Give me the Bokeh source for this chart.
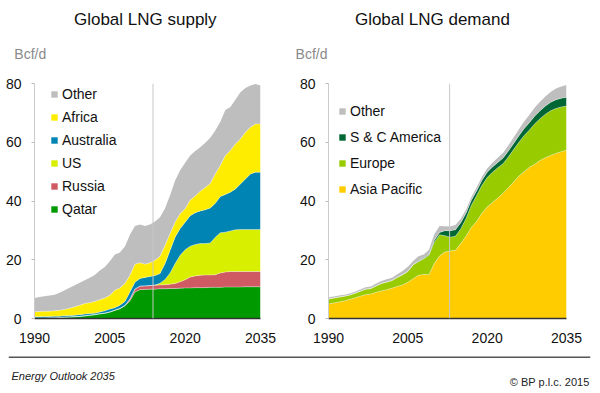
from bokeh.plotting import figure
from bokeh.models import (Legend, LegendItem, Label, Span, FixedTicker, Range1d,
                          ColumnDataSource)
from bokeh.layouts import row, column
from bokeh.embed import file_html
from bokeh.resources import INLINE

# ---------------- data ----------------
years = list(range(1990, 2036))
tick_years = [1990, 2005, 2020, 2035]
tick_values = [0, 20, 40, 60, 80]

supply_names = ["Qatar", "Russia", "US", "Australia", "Africa", "Other"]
supply_qatar = [0.1, 0.1, 0.1, 0.2, 0.2, 0.3, 0.4, 0.5, 0.6, 0.7,
                0.9, 1.1, 1.3, 1.6, 1.8, 2.2, 2.8, 3.3, 4.3, 6.0,
                9.0, 9.8, 9.9, 10.0, 10.0, 10.1, 10.1, 10.2, 10.2, 10.3,
                10.4, 10.4, 10.5, 10.5, 10.5, 10.6, 10.6, 10.6, 10.7, 10.7,
                10.7, 10.7, 10.8, 10.8, 10.8, 10.8]
supply_russia = [0, 0, 0, 0, 0, 0, 0, 0, 0, 0,
                 0, 0, 0, 0, 0, 0, 0, 0.1, 0.1, 0.6,
                 1.0, 1.2, 1.2, 1.2, 1.3, 1.3, 1.4, 1.5, 1.7, 2.2,
                 2.8, 3.7, 4.0, 4.2, 4.3, 4.2, 4.3, 4.9, 5.1, 5.3,
                 5.3, 5.3, 5.2, 5.2, 5.2, 5.2]
supply_us = [0, 0, 0, 0, 0, 0, 0, 0, 0, 0,
             0, 0, 0, 0, 0, 0, 0, 0, 0, 0,
             0, 0, 0, 0, 0.1, 0.6, 1.8, 3.8, 6.8, 9.0,
             10.2, 10.5, 10.7, 10.8, 10.7, 10.9, 12.8, 13.7, 13.6, 13.8,
             14.2, 14.3, 14.3, 14.3, 14.3, 14.3]
supply_australia = [0.5, 0.5, 0.6, 0.5, 0.6, 0.5, 0.5, 0.5, 0.5, 0.6,
                    0.6, 0.6, 0.5, 0.6, 0.8, 1.0, 0.9, 1.1, 1.4, 2.4,
                    2.3, 2.6, 2.9, 3.1, 3.2, 3.3, 5.4, 7.7, 9.0, 9.1,
                    9.4, 10.4, 10.8, 11.1, 11.5, 11.9, 11.5, 12.3, 12.8, 13.2,
                    13.9, 15.5, 17.2, 18.9, 19.5, 19.5]
supply_africa = [1.7, 1.8, 1.8, 1.8, 1.8, 2.0, 2.2, 2.5, 2.9, 3.2,
                 3.6, 3.7, 4.0, 4.2, 4.4, 4.7, 5.9, 5.9, 6.1, 5.7,
                 6.2, 5.4, 4.5, 4.7, 5.2, 5.9, 6.2, 5.7, 5.1, 5.1,
                 4.6, 5.3, 5.7, 6.7, 7.6, 8.4, 10.0, 10.6, 13.3, 14.2,
                 15.3, 15.3, 15.9, 15.9, 16.4, 16.4]
supply_other = [4.7, 4.9, 5.1, 5.3, 5.5, 6.0, 6.5, 7.0, 7.3, 7.7,
                7.9, 8.5, 9.0, 9.9, 10.5, 11.6, 12.2, 12.1, 12.6, 13.8,
                13.0, 13.0, 13.0, 13.0, 13.2, 13.3, 12.6, 13.1, 14.2, 14.8,
                15.6, 15.2, 15.3, 15.0, 15.2, 15.5, 14.8, 14.9, 15.5, 14.8,
                15.1, 15.9, 15.1, 14.2, 13.6, 13.1]

demand_names = ["Asia Pacific", "Europe", "S & C America", "Other"]
demand_asia = [4.9, 5.3, 5.6, 6.0, 6.5, 7.0, 7.6, 8.1, 8.3, 8.9,
               9.4, 9.8, 10.3, 10.9, 11.4, 12.3, 13.5, 14.7, 15.0, 14.9,
               18.7, 21.3, 22.6, 23.0, 23.2, 25.5, 28.0, 31.0, 33.0, 35.8,
               38.0, 39.5, 41.0, 42.6, 44.5, 46.5, 48.5, 50.0, 51.5, 52.5,
               53.8, 54.7, 55.5, 56.2, 56.8, 57.3]
demand_europe = [1.7, 1.7, 1.7, 1.6, 1.5, 1.6, 1.7, 1.9, 1.9, 2.2,
                 2.5, 2.6, 2.6, 3.1, 3.5, 3.7, 4.8, 4.6, 5.3, 6.6,
                 7.3, 7.2, 5.6, 4.7, 4.8, 5.0, 6.0, 7.5, 8.8, 9.5,
                 10.0, 10.3, 10.3, 10.1, 10.5, 11.0, 11.5, 12.3, 12.7, 13.8,
                 14.2, 14.8, 15.2, 15.3, 15.2, 15.0]
demand_sc = [0, 0, 0, 0, 0, 0, 0, 0, 0, 0,
             0, 0, 0, 0, 0, 0, 0, 0.2, 0.2, 0.3,
             0.6, 0.8, 1.7, 2.2, 2.2, 2.1, 1.8, 1.7, 1.6, 1.7,
             1.8, 1.8, 1.8, 1.9, 2.0, 2.1, 2.2, 2.4, 2.5, 2.6,
             2.7, 2.8, 2.9, 3.0, 3.0, 3.0]
demand_other = [0.6, 0.5, 0.5, 0.5, 0.5, 0.5, 0.6, 0.6, 0.7, 0.8,
                0.9, 1.0, 1.0, 1.1, 1.3, 1.6, 1.3, 1.7, 1.3, 1.6,
                2.1, 2.2, 1.5, 1.4, 1.6, 1.4, 1.2, 1.1, 1.2, 1.2,
                1.3, 1.4, 1.6, 1.7, 1.9, 2.0, 2.2, 2.4, 2.7, 2.9,
                3.1, 3.3, 3.5, 3.8, 4.0, 4.2]

for arr in [supply_qatar, supply_russia, supply_us, supply_australia, supply_africa,
            supply_other, demand_asia, demand_europe, demand_sc, demand_other]:
    assert len(arr) == len(years), len(arr)

FONT = "Liberation Sans"
supply_colors = ["#009A00", "#D05A64", "#D9EF00", "#0084B4", "#FFED00", "#BEBEBE"]
demand_colors = ["#FFCC00", "#99CC00", "#006633", "#BEBEBE"]

HEAD_H = 65
CHART_H = 283
FOOT_H = 393 - HEAD_H - CHART_H


def base_fig(width, left, right):
    p = figure(width=width, height=CHART_H, output_backend="svg", toolbar_location=None,
               x_range=Range1d(1990, 2035), y_range=Range1d(0, 80),
               min_border_left=left, min_border_right=right,
               min_border_top=18, min_border_bottom=30)
    p.outline_line_color = None
    p.grid.visible = False
    p.xaxis.ticker = FixedTicker(ticks=tick_years)
    p.xaxis.minor_tick_line_color = None
    p.xaxis.major_tick_line_color = None
    p.xaxis.axis_line_color = "#333333"
    p.xaxis.axis_line_width = 1.5
    p.xaxis.major_label_standoff = 8
    p.yaxis.ticker = FixedTicker(ticks=tick_values)
    p.yaxis.minor_tick_line_color = None
    p.yaxis.axis_line_color = "#cccccc"
    p.yaxis.major_tick_line_color = "#bbbbbb"
    p.yaxis.major_tick_in = 0
    p.yaxis.major_tick_out = 3
    p.yaxis.major_label_standoff = 10
    for ax in (p.xaxis, p.yaxis):
        ax.major_label_text_font = FONT
        ax.major_label_text_font_size = "14px"
        ax.major_label_text_color = "#111111"
    return p


# ---------------- header (titles, units) ----------------
ph = figure(width=600, height=HEAD_H, output_backend="svg", toolbar_location=None,
            x_range=Range1d(0, 600), y_range=Range1d(0, HEAD_H),
            x_axis_type=None, y_axis_type=None, min_border=0)
ph.outline_line_color = None
for tx, title in [(141, "Global LNG supply"), (437, "Global LNG demand")]:
    ph.add_layout(Label(x=tx, y=HEAD_H - 18.5, text=title, text_font=FONT,
                        text_font_size="17px", text_align="center",
                        text_baseline="middle", text_color="#111111"))
for ux in (6, 296):
    ph.add_layout(Label(x=ux, y=HEAD_H - 53.5, text="Bcf/d", text_font=FONT,
                        text_font_size="14px", text_align="left",
                        text_baseline="middle", text_color="#8a8a8a"))

# ---------------- supply ----------------
src_s = ColumnDataSource(dict(year=years, Qatar=supply_qatar, Russia=supply_russia,
                              US=supply_us, Australia=supply_australia,
                              Africa=supply_africa, Other=supply_other))
ps = base_fig(296, 34, 36)
rs = ps.varea_stack(stackers=supply_names, x="year", color=supply_colors, source=src_s)
ps.vline_stack(stackers=supply_names[:-1], x="year", color="white", line_alpha=0.45,
               line_width=0.8, source=src_s)
ps.add_layout(Span(location=2013.6, dimension="height", line_color="#c8c8c8", line_width=1))
leg_s = Legend(items=[LegendItem(label=n, renderers=[r]) for n, r in
                      reversed(list(zip(supply_names, rs)))],
               location=(16, 99), glyph_width=8, glyph_height=8, label_height=20,
               spacing=3, padding=0, margin=0, border_line_color=None,
               background_fill_alpha=0, label_text_font=FONT,
               label_text_font_size="14px", label_standoff=4, label_text_color="#111111")
ps.add_layout(leg_s)

# ---------------- demand ----------------
src_d = ColumnDataSource(dict(year=years, Asia=demand_asia, Europe=demand_europe,
                              SC=demand_sc, Other=demand_other))
dkeys = ["Asia", "Europe", "SC", "Other"]
pd_ = base_fig(304, 29, 34)
rd = pd_.varea_stack(stackers=dkeys, x="year", color=demand_colors, source=src_d)
pd_.vline_stack(stackers=dkeys[:-1], x="year", color="white", line_alpha=0.45,
                line_width=0.8, source=src_d)
pd_.add_layout(Span(location=2012.9, dimension="height", line_color="#c8c8c8", line_width=1))
leg_d = Legend(items=[LegendItem(label=n, renderers=[r]) for n, r in
                      reversed(list(zip(demand_names, rd)))],
               location=(10, 119), glyph_width=8, glyph_height=8, label_height=20,
               spacing=6, padding=0, margin=0, border_line_color=None,
               background_fill_alpha=0, label_text_font=FONT,
               label_text_font_size="14px", label_standoff=4, label_text_color="#111111")
pd_.add_layout(leg_d)

# ---------------- footer ----------------
pf = figure(width=600, height=FOOT_H, output_backend="svg", toolbar_location=None,
            x_range=Range1d(8, 590), y_range=Range1d(0, FOOT_H),
            x_axis_type=None, y_axis_type=None, min_border=0,
            min_border_left=8, min_border_right=10)
pf.outline_line_color = None
pf.add_layout(Span(location=FOOT_H - 8.7, dimension="width", line_color="#555555",
                   line_width=1.5))
pf.add_layout(Label(x=11, y=FOOT_H - 27, text="Energy Outlook 2035", text_font=FONT,
                    text_font_size="11px", text_font_style="italic",
                    text_baseline="middle", text_color="#222222"))
pf.add_layout(Label(x=589, y=FOOT_H - 33, text="\u00a9 BP p.l.c. 2015", text_font=FONT,
                    text_font_size="11px", text_align="right",
                    text_baseline="middle", text_color="#222222"))

layout = column(ph, row(ps, pd_), pf)
open("out.html", "w").write(file_html(layout, INLINE))
